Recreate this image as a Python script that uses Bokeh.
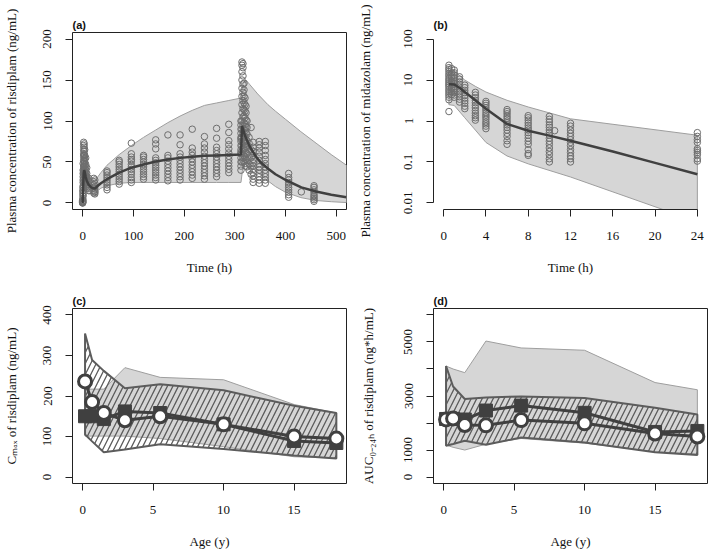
import numpy as np
from bokeh.plotting import figure
from bokeh.layouts import gridplot
from bokeh.models import Range1d, FixedTicker
from bokeh.embed import file_html
from bokeh.resources import INLINE

# ---------------- Panel (a): risdiplam plasma concentration ----------------
a_band_t = [0, 1, 2, 4, 8, 12, 24, 36, 48, 72, 96, 120, 144, 168, 192, 216, 240, 264, 288, 312,
            316, 322, 330, 345, 365, 380, 400, 430, 460, 490, 520]
a_band_hi = [2, 40, 62, 58, 42, 32, 27, 37, 46, 59, 70, 80, 89, 98, 106, 113, 119, 122, 125, 128,
             146, 150, 144, 133, 120, 112, 102, 87, 73, 59, 46]
a_band_lo = [0, 5, 15, 18, 14, 11, 12, 18, 21, 24, 25, 25, 25, 25, 25, 25, 25, 25, 25, 25,
             45, 51, 47, 37, 27, 20, 13, 6.5, 3, 1.5, 0.5]

a_med_t = [0, 1, 2, 3, 4, 6, 8, 12, 16, 20, 24, 30, 36, 48, 60, 72, 96, 120, 144, 168, 192, 216,
           240, 264, 288, 312, 313, 314, 316, 320, 330, 340, 350, 365, 380, 400, 431, 460, 490, 520]
a_med_c = [0, 20, 36, 40, 38, 32, 27, 22, 19.5, 18, 17.5, 21, 24, 29, 33, 37, 43, 47, 50.5, 53, 55,
           56.5, 57.5, 58, 58.5, 59, 75, 94, 90, 82, 68, 58, 50, 42, 35, 28, 19, 14, 10, 7]

a_obs = {
    0: [0, 0.5, 1, 2, 0, 1.5, 3],
    0.5: [3, 8, 12, 20, 5, 15],
    1: [10, 18, 25, 32, 40, 15, 48, 28, 36],
    2: [22, 30, 38, 45, 52, 60, 70, 74, 35, 41, 57, 65],
    3: [25, 33, 40, 48, 55, 63, 68, 72, 44, 51, 59],
    4: [24, 30, 36, 42, 50, 58, 65, 38, 46, 54],
    6: [20, 26, 33, 40, 47, 55, 30, 37, 44],
    8: [18, 24, 30, 36, 43, 28, 33],
    12: [15, 20, 26, 30, 22, 18],
    22: [12, 15, 18, 22, 26, 30],
    24: [11, 14, 17, 20, 24, 28, 13],
    48: [16, 19, 22, 25, 28, 31, 34, 37, 39],
    72: [23, 26, 29, 32, 35, 38, 41, 44, 47, 50, 52],
    96: [25, 28, 31, 35, 38, 41, 44, 47, 51, 53, 56, 60, 73],
    120: [29, 32, 35, 38, 41, 44, 47, 50, 53, 56, 58],
    144: [28, 31, 34, 37, 40, 43, 46, 49, 52, 55, 66, 72, 77],
    168: [27, 31, 35, 39, 43, 47, 51, 55, 58, 83],
    192: [28, 32, 36, 40, 44, 48, 52, 56, 60, 71, 83],
    216: [30, 34, 38, 42, 46, 50, 54, 58, 62, 67, 90],
    240: [29, 33, 37, 41, 45, 49, 53, 57, 62, 67, 72, 81],
    264: [32, 36, 40, 44, 48, 52, 56, 60, 64, 68, 79, 91],
    288: [37, 41, 45, 49, 53, 57, 61, 66, 71, 76, 86, 96],
    312: [40, 45, 50, 55, 60, 65, 70, 75, 80, 85, 90, 95, 100, 62, 78],
    314: [50, 60, 70, 80, 90, 100, 110, 120, 130, 140, 150, 160, 168, 172],
    316: [55, 65, 75, 85, 95, 105, 115, 125, 135, 145, 155, 165, 170],
    318: [50, 58, 66, 74, 82, 90, 98, 106, 114, 122, 130, 138, 146],
    320: [48, 56, 64, 72, 80, 88, 96, 104, 112, 120, 128],
    322: [45, 53, 61, 69, 77, 85, 93, 101, 110, 118],
    324: [44, 52, 60, 68, 76, 84, 92, 100],
    328: [40, 48, 56, 65, 73, 80],
    332: [35, 45, 55, 65, 92],
    336: [25, 29, 33, 37, 41, 45, 49, 53, 58, 63, 68, 74],
    348: [24, 28, 32, 36, 40, 44, 48, 52, 57, 62, 67, 71, 75],
    360: [24, 28, 32, 36, 40, 44, 48, 53, 58, 64, 70, 75],
    406: [7, 10, 13, 16, 19, 22, 25, 28, 31, 36],
    431: [13.5],
    456: [2, 4, 6, 8, 10, 13, 16, 19, 21],
}

# ---------------- Panel (b): midazolam plasma concentration ----------------
b_band_t = [0.5, 1, 2, 3, 4, 6, 8, 12, 24]
b_band_hi = [16, 17, 10, 7, 5.1, 3.2, 2.2, 1.13, 0.45]
b_band_lo = [2.5, 2.4, 1.2, 0.6, 0.3, 0.14, 0.09, 0.043, 0.0035]

b_med_t = [0.5, 1, 1.5, 2, 3, 4, 6, 8, 10, 12, 16, 20, 24]
b_med_c = [7.9, 7.8, 6.5, 5.1, 3.2, 2.0, 0.85, 0.58, 0.44, 0.33, 0.18, 0.095, 0.05]

b_obs = {
    0.5: [23, 20, 18, 16, 14, 12.5, 11, 10, 9, 8.2, 7.5, 6.8, 6, 5.4, 4.8, 4.3, 3.8, 3.3, 1.7],
    0.75: [19, 15, 12, 9.5, 7.8, 6.4, 5.2, 4.4],
    1: [17.5, 15, 13, 11.5, 10, 9, 8, 7, 6.2, 5.5, 4.9, 4.3, 3.8],
    1.5: [12, 10.5, 9, 7.8, 6.8, 6, 5.2, 4.5, 3.9, 3.4, 2.9],
    2: [7.5, 6.5, 5.6, 4.9, 4.2, 3.6, 3.1, 2.7, 2.3, 2.0],
    3: [5, 4.3, 3.7, 3.2, 2.8, 2.4, 2.1, 1.8, 1.55, 1.35, 1.2, 1.05],
    4: [3.0, 2.7, 2.4, 2.1, 1.85, 1.6, 1.4, 1.25, 1.1, 0.95, 0.85, 0.75, 0.65],
    6: [1.9, 1.7, 1.5, 1.3, 1.15, 1.0, 0.9, 0.8, 0.7, 0.6, 0.5, 0.42, 0.33, 0.27],
    8: [1.35, 1.2, 1.05, 0.9, 0.78, 0.68, 0.6, 0.52, 0.45, 0.38, 0.32, 0.27, 0.2, 0.16, 0.145],
    10: [1.3, 1.1, 0.95, 0.8, 0.7, 0.6, 0.52, 0.45, 0.38, 0.32, 0.27, 0.22, 0.18, 0.15, 0.12, 0.1],
    10.5: [0.58],
    12: [0.88, 0.75, 0.6, 0.5, 0.42, 0.35, 0.3, 0.25, 0.2, 0.17, 0.14, 0.12, 0.1],
    24: [0.52, 0.42, 0.35, 0.3, 0.21, 0.19, 0.17, 0.15, 0.12, 0.105],
}

# ---------------- Panels (c) and (d): by age ----------------
ages = [0.17, 0.67, 1.5, 3, 5.5, 10, 15, 18]

c_obs = [150, 150, 143, 162, 158, 130, 89, 84]
c_pred = [236, 185, 158, 140, 150, 130, 100, 95]
c_hatch_hi = [354, 289, 262, 219, 229, 214, 176, 158]
c_hatch_lo = [105, 88, 61, 68, 81, 69, 53, 46]
c_grey_hi = [217, 217, 217, 270, 246, 240, 179, 158]
c_grey_lo = [101, 101, 101, 101, 95, 75, 50, 47]

d_obs = [2150, 2150, 2130, 2462, 2645, 2378, 1669, 1706]
d_pred = [2133, 2170, 1925, 1913, 2108, 1987, 1609, 1500]
d_hatch_hi = [4109, 3352, 2890, 2940, 2986, 2927, 2561, 2316]
d_hatch_lo = [1156, 1225, 1340, 1193, 1463, 1281, 915, 816]
d_grey_hi = [4109, 4000, 3864, 5035, 4779, 4694, 3498, 3231]
d_grey_lo = [1182, 1100, 999, 1218, 1427, 1255, 937, 853]

# ---------------- styling helpers ----------------
SERIF = "Liberation Serif"
DARK = "#404040"
BAND_FILL = "#d6d6d6"
BAND_LINE = "#9e9e9e"
PT = "#6e6e6e"


def style(p, label, boxed=True, ylab_standoff=22):
    p.xgrid.visible = False
    p.ygrid.visible = False
    p.background_fill_color = "white"
    p.border_fill_color = "white"
    if boxed:
        p.outline_line_color = "#222222"
        p.outline_line_width = 1
        p.outline_line_alpha = 1
    else:
        p.outline_line_color = None
    for ax in p.axis:
        ax.major_tick_out = 7
        ax.major_tick_in = 0
        ax.minor_tick_line_color = None
        ax.major_tick_line_color = "#222222"
        ax.major_label_text_font = SERIF
        ax.major_label_text_font_size = "13px"
        ax.major_label_text_color = "#111111"
        ax.axis_label_text_font = SERIF
        ax.axis_label_text_font_size = "13px"
        ax.axis_label_text_font_style = "normal"
        ax.axis_label_text_color = "#111111"
        ax.axis_line_color = None if boxed else "#222222"
    p.xaxis.major_label_standoff = 15
    p.yaxis.major_label_standoff = 14
    p.xaxis.axis_label_standoff = 17
    p.yaxis.axis_label_standoff = ylab_standoff
    p.yaxis.major_label_orientation = "vertical"
    p.title.text = label
    p.title.align = "left"
    p.title.text_font = "Liberation Sans"
    p.title.text_font_style = "bold"
    p.title.text_font_size = "11px"
    p.title.text_color = "#111111"
    p.title.standoff = 3
    p.title.offset = 0


def poly(x, hi, lo):
    return list(x) + list(x)[::-1], list(hi) + list(lo)[::-1]


W = 354
FW = 275
FH = 177
TH, BH = 284, 267
L_LEFT, R_LEFT = 71, 78

# ---------------- (a) ----------------
pa = figure(width=W, height=TH, output_backend="svg", toolbar_location=None,
            x_range=Range1d(-20, 520), y_range=Range1d(-8, 208),
            min_border_left=L_LEFT, min_border_right=W - L_LEFT - FW,
            min_border_top=32, min_border_bottom=TH - 32 - FH)
px, py = poly(a_band_t, a_band_hi, a_band_lo)
pa.patch(px, py, fill_color=BAND_FILL, line_color=BAND_LINE, line_width=1)
ax_t, ax_c = [], []
for t, vals in a_obs.items():
    ax_t += [t] * len(vals)
    ax_c += vals
pa.scatter(ax_t, ax_c, marker="circle", size=6.5, fill_color=None, line_color=PT, line_width=1)
pa.line(a_med_t, a_med_c, line_color=DARK, line_width=2.5)
pa.xaxis.ticker = FixedTicker(ticks=[0, 100, 200, 300, 400, 500])
pa.yaxis.ticker = FixedTicker(ticks=[0, 50, 100, 150, 200])
pa.xaxis.axis_label = "Time (h)"
pa.yaxis.axis_label = "Plasma concentration of risdiplam (ng/mL)"
style(pa, "(a)", boxed=True, ylab_standoff=22)

# ---------------- (b) ----------------
pb = figure(width=W, height=TH, output_backend="svg", toolbar_location=None,
            y_axis_type="log",
            x_range=Range1d(-0.96, 24.96), y_range=Range1d(10 ** -2.16, 10 ** 2.16),
            min_border_left=R_LEFT, min_border_right=W - R_LEFT - FW,
            min_border_top=32, min_border_bottom=TH - 32 - FH)
px, py = poly(b_band_t, b_band_hi, b_band_lo)
pb.patch(px, py, fill_color=BAND_FILL, line_color=BAND_LINE, line_width=1)
bx_t, bx_c = [], []
for t, vals in b_obs.items():
    bx_t += [t] * len(vals)
    bx_c += vals
pb.scatter(bx_t, bx_c, marker="circle", size=6.5, fill_color=None, line_color=PT, line_width=1)
pb.line(b_med_t, b_med_c, line_color=DARK, line_width=2.5)
pb.xaxis.ticker = FixedTicker(ticks=[0, 4, 8, 12, 16, 20, 24])
pb.yaxis.ticker = FixedTicker(ticks=[0.01, 0.1, 1, 10, 100])
pb.yaxis.major_label_overrides = {0.01: "0.01", 0.1: "0.1", 1: "1", 10: "10", 100: "100"}
pb.xaxis.axis_label = "Time (h)"
pb.yaxis.axis_label = "Plasma concentration of midazolam (ng/mL)"
style(pb, "(b)", boxed=False, ylab_standoff=29)
pb.xaxis.bounds = (0, 24)
pb.yaxis.bounds = (0.01, 100)


def age_panel(label, obs, pred, hh, hl, gh, gl, yr, yticks, ylabel, left, standoff, overrides=None):
    p = figure(width=W, height=BH, output_backend="svg", toolbar_location=None,
               x_range=Range1d(-0.72, 18.72), y_range=Range1d(*yr),
               min_border_left=left, min_border_right=W - left - FW,
               min_border_top=24, min_border_bottom=BH - 24 - FH)
    gx, gy = poly(ages, gh, gl)
    p.patch(gx, gy, fill_color=BAND_FILL, line_color=BAND_LINE, line_width=1)
    hx, hy = poly(ages, hh, hl)
    p.patch(hx, hy, fill_color=None, line_color="#5c5c5c", line_width=2,
            hatch_pattern="/", hatch_color="#5c5c5c", hatch_weight=1.3, hatch_scale=11)
    p.line(ages, obs, line_color=DARK, line_width=3)
    p.scatter(ages, obs, marker="square", size=13, fill_color=DARK, line_color=DARK)
    p.line(ages, pred, line_color=DARK, line_width=3)
    p.scatter(ages, pred, marker="circle", size=13, fill_color="white", line_color=DARK, line_width=3)
    p.xaxis.ticker = FixedTicker(ticks=[0, 5, 10, 15])
    p.yaxis.ticker = FixedTicker(ticks=yticks)
    if overrides:
        p.yaxis.major_label_overrides = overrides
    p.xaxis.axis_label = "Age (y)"
    p.yaxis.axis_label = ylabel
    style(p, label, boxed=True, ylab_standoff=standoff)
    return p


pc = age_panel("(c)", c_obs, c_pred, c_hatch_hi, c_hatch_lo, c_grey_hi, c_grey_lo,
               (-16, 416), [0, 100, 200, 300, 400], "Cₘₐₓ of risdiplam (ng/mL)", L_LEFT, 22)
pd_ = age_panel("(d)", d_obs, d_pred, d_hatch_hi, d_hatch_lo, d_grey_hi, d_grey_lo,
                (-240, 6240), [0, 1000, 2000, 3000, 4000, 5000, 6000],
                "AUC₀₋₂₄ₕ of risdiplam (ng*h/mL)", R_LEFT, 26,
                overrides={2000: "", 4000: "", 6000: ""})

grid = gridplot([[pa, pb], [pc, pd_]], toolbar_location=None)
open("out.html", "w").write(file_html(grid, INLINE))
